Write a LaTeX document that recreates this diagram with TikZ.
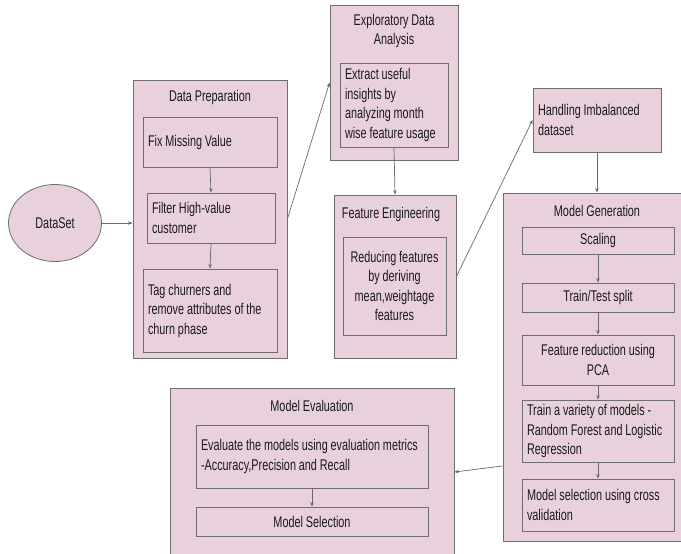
\documentclass[tikz,border=0pt]{standalone}
\usepackage{fontspec}
\setmainfont{Liberation Sans}[FakeStretch=0.7,WordSpace=0.95]
\usetikzlibrary{arrows.meta,shapes.geometric}
\definecolor{pinkfill}{HTML}{E8D1DC}
\definecolor{bordergray}{HTML}{6E6E6E}
\definecolor{linegray}{HTML}{6A6A6A}
\definecolor{txt}{HTML}{1A1A1A}
\newcommand\myfont{\fontsize{15.5}{19.5}\selectfont
  \hyphenpenalty=10000\exhyphenpenalty=10000}
\tikzset{
  box/.style={draw=bordergray, fill=pinkfill, line width=0.8pt, inner xsep=5pt, inner ysep=0pt,
    font=\myfont, text=txt},
  ttl/.style={inner sep=0pt, font=\myfont, text=txt},
  conn/.style={draw=linegray, line width=0.7pt, -{Stealth[length=4.5pt,width=3.5pt]}},
}
\newcommand\mybx[7]{%
  \pgfmathsetmacro\bxcx{(#2+#4)/2}\pgfmathsetmacro\bxcy{(#3+#5)/2}%
  \pgfmathsetmacro\bxw{#4-#2}\pgfmathsetmacro\bxh{#5-#3}\pgfmathsetmacro\bxtw{#4-#2-10}%
  \node[box, minimum width=\bxw pt, minimum height=\bxh pt, text width=\bxtw pt, align=#6] (#1) at (\bxcx,\bxcy) {#7};}
\begin{document}
\begin{tikzpicture}[x=1pt,y=-1pt]
\useasboundingbox (0,0) rectangle (681,554);
\fill[white] (0,0) rectangle (681,554);
\clip (0,0) rectangle (681,554);
% DataSet
\node[ellipse, draw=bordergray, fill=pinkfill, line width=0.8pt, minimum width=93pt, minimum height=77pt,
  inner sep=0pt, font=\myfont, text=txt] (ds) at (55,223) {DataSet};
% Data Preparation
\mybx{dp}{133}{80}{287}{358}{flush left}{}
\node[ttl] (dpt) at (210,97) {Data Preparation};
\mybx{fix}{143}{117}{277}{167}{flush left}{Fix Missing Value}
\mybx{filt}{147}{193}{275}{243}{flush left}{Filter High-value\\customer}
\mybx{tag}{143}{269}{277}{352}{flush left}{Tag churners and\\remove attributes of the\\churn phase}
% EDA
\mybx{eda}{330}{5}{458}{160}{flush left}{}
\node[ttl, align=center] (edat) at (394,31) {Exploratory Data\\Analysis};
\mybx{edai}{340}{63}{448}{147}{flush left}{Extract useful\\insights by\\analyzing month\\wise feature usage}
% Feature Engineering
\mybx{fe}{334}{195}{456}{358}{flush left}{}
\node[ttl] (fet) at (391,214) {Feature Engineering};
\mybx{fei}{343}{237}{446}{335}{flush center}{Reducing features\\by deriving\\mean,weightage\\features}
% Handling Imbalanced
\mybx{hi}{533}{88}{661}{152}{flush left}{Handling Imbalanced\\dataset}
% Model Generation
\mybx{mg}{503}{193}{693}{541}{flush left}{}
\node[ttl] (mgt) at (597,211) {Model Generation};
\mybx{sc}{522}{227}{674}{254}{flush center}{Scaling}
\mybx{tts}{522}{283}{674}{312}{flush center}{Train/Test split}
\mybx{pca}{522}{335}{674}{385}{flush center}{Feature reduction using\\PCA}
\mybx{trn}{522}{400}{674}{462}{flush left}{Train a variety of models -\\Random Forest and Logistic\\Regression}
\mybx{mcv}{522}{479}{674}{531}{flush left}{Model selection using cross\\validation}
% Model Evaluation
\mybx{me}{170}{388}{454}{556}{flush left}{}
\node[ttl] (met) at (312,406) {Model Evaluation};
\mybx{ev}{196}{425}{428}{488}{flush left}{Evaluate the models using evaluation metrics\\-Accuracy,Precision and Recall}
\mybx{ms}{196}{507}{428}{536}{flush center}{Model Selection}
% connectors
\draw[conn] (ds.east) -- (ds.east -| dp.west);
\draw[conn] (fix.south) -- (filt.north);
\draw[conn] (filt.south) -- (tag.north);
\draw[conn] (dp.east) -- (eda.west);
\draw[conn] (edai.south) -- (fe.north);
\draw[conn] (fe.east) -- (hi.west);
\draw[conn] (hi.south) -- (mg.north -| hi.south);
\draw[conn] (sc.south) -- (tts.north);
\draw[conn] (tts.south) -- (pca.north);
\draw[conn] (pca.south) -- (trn.north);
\draw[conn] (trn.south) -- (mcv.north);
\draw[conn] ([yshift=-99pt]mg.west) -- (me.east);
\draw[conn] (ev.south) -- (ms.north);
\end{tikzpicture}
\end{document}
